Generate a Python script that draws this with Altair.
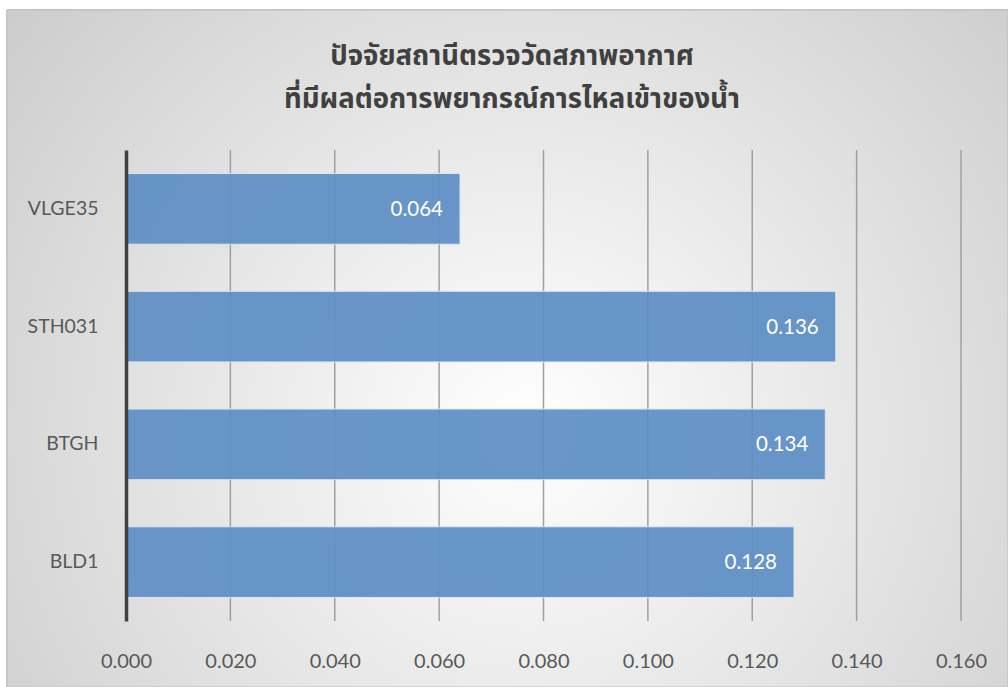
import altair as alt
import pandas as pd

stations = ["VLGE35", "STH031", "BTGH", "BLD1"]
values = [0.064, 0.136, 0.134, 0.128]
x_ticks = [0.0, 0.02, 0.04, 0.06, 0.08, 0.10, 0.12, 0.14, 0.16]
title_lines = ["ปัจจัยสถานีตรวจวัดสภาพอากาศ", "ที่มีผลต่อการพยากรณ์การไหลเข้าของน้ำ"]

df = pd.DataFrame({"station": stations, "value": values})
df["label"] = df["value"].map(lambda v: f"{v:.3f}")
grid_df = pd.DataFrame({"tick": x_ticks[1:]})

W, H = 835, 471
PL, PT, PR, PB = 126, 150, 47, 66

font = "Lato"
thai_font = "Noto Sans Thai, Noto Sans, DejaVu Sans, sans-serif"

bg_gradient = {
    "gradient": "radial",
    "x1": 0.52, "y1": 0.58, "r1": 0,
    "x2": 0.52, "y2": 0.58, "r2": 0.75,
    "stops": [
        {"offset": 0, "color": "#ffffff"},
        {"offset": 1, "color": "#c6c6c6"},
    ],
}

xscale = alt.Scale(domain=[0, 0.16], nice=False, zero=True)

bg = alt.Chart(df).mark_rect(fill=bg_gradient, stroke="#bfbfbf", strokeWidth=1).encode(
    x=alt.value(7 - PL),
    x2=alt.value(1008 - PL),
    y=alt.value(10 - PT),
    y2=alt.value(687 - PT),
)

grid = alt.Chart(grid_df).mark_rule(color="#a0a0a0", strokeWidth=1.5).encode(
    x=alt.X("tick:Q", scale=xscale),
    y=alt.value(0),
    y2=alt.value(H),
)

x_enc = alt.X(
    "value:Q",
    scale=xscale,
    axis=alt.Axis(
        values=x_ticks,
        format=".3f",
        title=None,
        grid=False,
        domain=False,
        ticks=False,
        labelFont=font,
        labelFontSize=20,
        labelColor="#595959",
        labelPadding=30,
        labelFlush=False,
        labelOverlap=False,
        zindex=1,
    ),
)
y_enc = alt.Y(
    "station:N",
    sort=stations,
    scale=alt.Scale(paddingInner=0.4, paddingOuter=0.2),
    axis=alt.Axis(
        title=None,
        domain=True,
        domainColor="#404040",
        domainWidth=3.5,
        ticks=False,
        grid=False,
        labelFont=font,
        labelFontSize=19.5,
        labelColor="#595959",
        labelPadding=28,
        zindex=1,
    ),
)

bars = alt.Chart(df).mark_bar(
    color="#5f8fc6", opacity=0.93, stroke="#dce6f2", strokeWidth=1
).encode(x=x_enc, y=y_enc)

labels = alt.Chart(df).mark_text(
    align="right", baseline="middle", dx=-17, dy=1,
    font=font, fontSize=20.5, color="#ffffff"
).encode(x="value:Q", y=alt.Y("station:N", sort=stations), text="label:N")

title_df = pd.DataFrame({"line": title_lines, "ypos": [65 - PT, 108 - PT]})
title = alt.Chart(title_df).mark_text(
    align="center", baseline="alphabetic",
    font=thai_font, fontSize=27.5, fontWeight="bold", color="#404040",
).encode(
    x=alt.value(512 - PL),
    y=alt.Y("ypos:Q", scale=None),
    text="line:N",
)

chart = alt.layer(bg, grid, bars, labels, title).properties(
    width=W,
    height=H,
    autosize=alt.AutoSizeParams(type="none"),
    padding={"left": PL, "top": PT, "right": PR, "bottom": PB},
    background="#ffffff",
).configure_view(stroke=None)

chart.save("out.html", embed_options={"renderer": "svg", "actions": False})
